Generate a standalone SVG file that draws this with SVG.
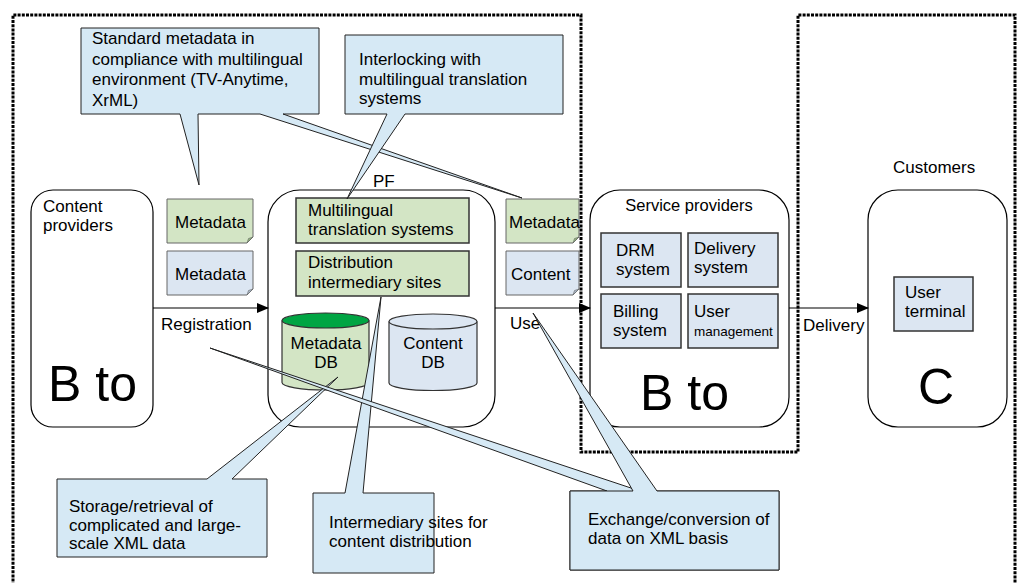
<svg xmlns="http://www.w3.org/2000/svg" width="1026" height="583" viewBox="0 0 1026 583">
<defs>
<marker id="arr" markerWidth="12" markerHeight="10" refX="11" refY="5" orient="auto" markerUnits="userSpaceOnUse">
<path d="M0,0 L12,5 L0,10 Z" fill="#000"/>
</marker>
<style>
text{font-family:"Liberation Sans",Arial,sans-serif;font-size:17px;fill:#000}
.big{font-size:50px}
.frame{fill:#fff;stroke:#000;stroke-width:1.2}
.gbox{fill:#d3e5c5;stroke:#333;stroke-width:1.5}
.bbox{fill:#dce6f2;stroke:#333;stroke-width:1.5}
.gnote{fill:#d3e5c5;stroke:#666;stroke-width:1}
.bnote{fill:#dce6f2;stroke:#666;stroke-width:1}
.gfold{fill:#8fb07c;stroke:#666;stroke-width:0.6}
.bfold{fill:#a9b8c8;stroke:#666;stroke-width:0.6}
.call{fill:#d6e9f5;stroke:#222;stroke-width:1}
.con{stroke:#000;stroke-width:1.2;fill:none}
.dot{fill:none;stroke:#000;stroke-width:3;stroke-dasharray:3,1.2}
</style>
</defs>
<rect width="1026" height="583" fill="#fff"/>

<path class="dot" d="M13,590 V15 H581 V452 H798 V15 H1015 V590"/>

<g id="content-providers">
<rect class="frame" x="31" y="190" width="122" height="237" rx="22"/>
<text x="43" y="212">Content</text>
<text x="43" y="231">providers</text>
<text class="big" x="48" y="401">B to</text>
</g>

<g id="note-metadata-green-left">
<path class="gnote" d="M167,199 H253 V237 L247,243 H167 Z"/>
<path class="gfold" d="M247,243 L253,237 L248.5,238.5 Z"/>
<text x="175" y="228">Metadata</text>
</g>
<g id="note-metadata-blue-left">
<path class="bnote" d="M167,251 H253 V289 L247,295 H167 Z"/>
<path class="bfold" d="M247,295 L253,289 L248.5,290.5 Z"/>
<text x="175" y="280">Metadata</text>
</g>

<g id="pf">
<text x="373" y="187">PF</text>
<rect class="frame" x="268" y="190" width="227" height="237" rx="32"/>
<g id="multilingual">
<rect class="gbox" x="296" y="198" width="173" height="45"/>
<text x="308" y="216">Multilingual</text>
<text x="308" y="235">translation systems</text>
</g>
<g id="distribution">
<rect class="gbox" x="296" y="251" width="173" height="45"/>
<text x="308" y="268">Distribution</text>
<text x="308" y="288">intermediary sites</text>
</g>
<g id="metadata-db">
<path d="M282,320.5 V382.5 A43.5,7.5 0 0 0 369,382.5 V320.5" fill="#d3e5c5" stroke="#333" stroke-width="1.2"/>
<ellipse cx="325.5" cy="320.5" rx="43.5" ry="7.5" fill="#00a543" stroke="#333" stroke-width="1.2"/>
<text x="326" y="349" text-anchor="middle">Metadata</text>
<text x="326" y="368" text-anchor="middle">DB</text>
</g>
<g id="content-db">
<path d="M389,321.5 V383 A44,7.5 0 0 0 477,383 V321.5" fill="#dce6f2" stroke="#333" stroke-width="1.2"/>
<ellipse cx="433" cy="321.5" rx="44" ry="7.5" fill="#dce6f2" stroke="#333" stroke-width="1.2"/>
<text x="433" y="349" text-anchor="middle">Content</text>
<text x="433" y="368" text-anchor="middle">DB</text>
</g>
</g>

<g id="note-metadata-green-right">
<path class="gnote" d="M506,199 H579 V237 L573,243 H506 Z"/>
<path class="gfold" d="M573,243 L579,237 L574.5,238.5 Z"/>
<text x="509" y="228">Metadata</text>
</g>
<g id="note-content-blue-right">
<path class="bnote" d="M506,251 H579 V289 L573,295 H506 Z"/>
<path class="bfold" d="M573,295 L579,289 L574.5,290.5 Z"/>
<text x="511" y="280">Content</text>
</g>

<g id="service-providers">
<rect class="frame" x="590" y="190" width="199" height="237" rx="30"/>
<text x="689" y="211" text-anchor="middle" style="font-size:16.5px">Service providers</text>
<rect class="bbox" x="601" y="233" width="80" height="54"/>
<text x="616" y="256">DRM</text>
<text x="616" y="275">system</text>
<rect class="bbox" x="688" y="233" width="90" height="54"/>
<text x="694" y="254">Delivery</text>
<text x="694" y="273">system</text>
<rect class="bbox" x="601" y="294" width="80" height="54"/>
<text x="613" y="317">Billing</text>
<text x="613" y="336">system</text>
<rect class="bbox" x="688" y="294" width="90" height="54"/>
<text x="694" y="317">User</text>
<text x="694" y="336" style="font-size:13.5px">management</text>
<text class="big" x="640" y="410">B to</text>
</g>

<g id="customers">
<text x="893" y="173">Customers</text>
<rect class="frame" x="868" y="190" width="139" height="237" rx="30"/>
<rect class="bbox" x="894" y="277" width="79" height="54"/>
<text x="905" y="298">User</text>
<text x="905" y="317">terminal</text>
<text class="big" x="918" y="404">C</text>
</g>

<g id="connectors">
<line class="con" x1="153" y1="308" x2="268" y2="308" marker-end="url(#arr)"/>
<line class="con" x1="495" y1="308" x2="590" y2="308" marker-end="url(#arr)"/>
<line class="con" x1="789" y1="308" x2="868" y2="308" marker-end="url(#arr)"/>
<text x="161" y="330">Registration</text>
<text x="510" y="329">Use</text>
<text x="803" y="331">Delivery</text>
</g>

<g id="callout-standard">
<path class="call" d="M81,28 H319 V114 H283 L522,198 L260,114 H198 L199,185 L180,114 H81 Z"/>
<text x="92" y="44">Standard metadata in</text>
<text x="92" y="64.5">compliance with multilingual</text>
<text x="92" y="85">environment (TV-Anytime,</text>
<text x="92" y="105.5">XrML)</text>
</g>
<g id="callout-interlocking">
<path class="call" d="M345,35 H563 V114 H405 L347,199 L387,114 H345 Z"/>
<text x="359" y="65">Interlocking with</text>
<text x="359" y="85">multilingual translation</text>
<text x="359" y="104">systems</text>
</g>
<g id="callout-storage">
<path class="call" d="M57,479 H207 L338,377 L232,479 H267 V557 H57 Z"/>
<text x="69" y="512">Storage/retrieval of</text>
<text x="69" y="531">complicated and large-</text>
<text x="69" y="549">scale XML data</text>
</g>
<g id="callout-intermediary">
<path class="call" d="M313,493 H345 L381,297 L363,493 H434 V573 H313 Z"/>
<text x="329" y="528">Intermediary sites for</text>
<text x="329" y="547">content distribution</text>
</g>
<g id="callout-exchange">
<path class="call" d="M570,491 H607 L210,348 L640,491 H779 V570 H570 Z"/>
<path class="call" d="M570,491 H633 L533,313 L657,491 H779 V570 H570 Z"/>
<text x="588" y="525">Exchange/conversion of</text>
<text x="588" y="544">data on XML basis</text>
</g>
</svg>
